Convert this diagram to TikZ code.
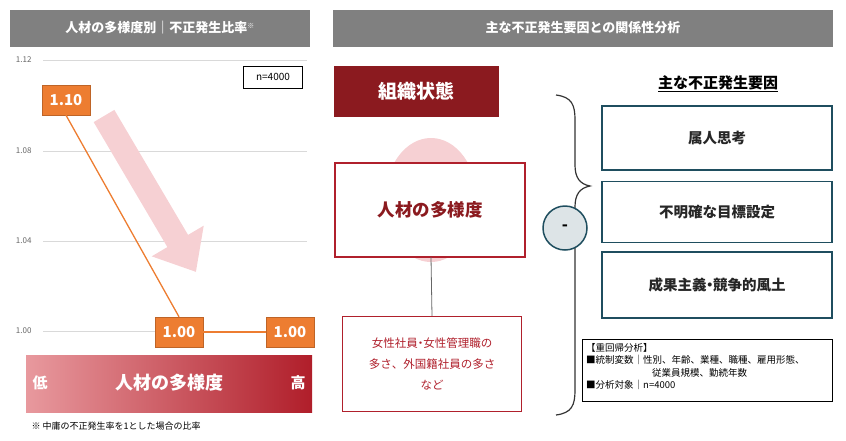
\documentclass[tikz,border=0pt]{standalone}
\usepackage{fontspec}
\setmainfont{Noto Sans CJK JP}
\usetikzlibrary{arrows.meta}
\definecolor{hdr}{HTML}{808080}
\definecolor{org}{HTML}{ED7D31}
\definecolor{dred}{HTML}{8B1A1F}
\definecolor{rbord}{HTML}{B0202C}
\definecolor{teal}{HTML}{1F4E5F}
\definecolor{pinkarr}{HTML}{F6D0D3}
\definecolor{gl}{HTML}{E8999E}
\definecolor{gr}{HTML}{B01E2A}
\tikzset{
 obox/.style={fill=org,draw=org!80!black,line width=0.4pt,text=white,font=\bfseries\fontsize{15}{17}\selectfont,minimum width=48pt,minimum height=30pt,inner sep=0pt},
 ax/.style={font=\fontsize{8}{9}\selectfont,text=black!60},
 grid/.style={draw=black!15,line width=0.8pt},
 fbox/.style={draw=teal,line width=1.6pt,fill=white,minimum width=230pt,minimum height=64pt,font=\bfseries\fontsize{14.5}{17}\selectfont,text=black!85},
}
\begin{document}
\begin{tikzpicture}[x=1pt,y=-1pt]
\useasboundingbox (0,0) rectangle (846,440);
% left header
\fill[hdr] (10,10) rectangle (310,47);
\node[text=white,font=\bfseries\fontsize{13}{15}\selectfont] (lh) at (160,28) {人材の多様度別｜不正発生比率\textsuperscript{\fontsize{7}{7}\selectfont ※}};
% grid
\foreach \v/\y in {1.12/60,1.08/151,1.04/241,1.00/331}{
 \draw[grid] (43,\y) -- (307,\y);
 \node[ax,anchor=east] at (35,\y) {\v};
}
\node[draw=black,line width=0.6pt,minimum width=59pt,minimum height=22pt,inner sep=0pt,font=\fontsize{10}{11}\selectfont] (n) at (273,77) {n=4000};
% pink arrow
\draw[pinkarr,line width=24pt,-{Triangle[width=58pt,length=36pt]}] (104,116) -- (196,272);
% data
\node[obox] (a) at (66,100) {1.10};
\node[obox] (b) at (179,332) {1.00};
\node[obox] (c) at (290,332) {1.00};
\draw[org,line width=1.3pt] (a.south) -- (b.north);
\draw[org,line width=1.3pt] (b.east) -- (c.west);
% gradient bar
\shade[left color=gl,right color=gr] (26,355) rectangle (312,412);
\node[text=white,font=\bfseries\fontsize{15}{17}\selectfont] (lo) at (40,383) {低};
\node[text=white,font=\bfseries\fontsize{18}{20}\selectfont] (mid) at (169,383) {人材の多様度};
\node[text=white,font=\bfseries\fontsize{15}{17}\selectfont] (hi) at (298,383) {高};
\node[anchor=west,font=\fontsize{9}{10}\selectfont] (fn) at (28,426) {※ 中庸の不正発生率を1とした場合の比率};
% right header
\fill[hdr] (333,10) rectangle (833,47);
\node[text=white,font=\bfseries\fontsize{13}{15}\selectfont] (rh) at (583,28) {主な不正発生要因との関係性分析};
\node[fill=dred,minimum width=165pt,minimum height=51pt,text=white,font=\bfseries\fontsize{19}{22}\selectfont] (st) at (416,91) {組織状態};
\fill[pinkarr] (431,200) ellipse (46pt and 62pt);
\node[draw=rbord,line width=1.2pt,fill=white,minimum width=190pt,minimum height=94pt,text=dred,font=\bfseries\fontsize{17.5}{20}\selectfont] (div) at (430,210) {人材の多様度};
\node[draw=rbord,line width=1.2pt,fill=white,minimum width=179pt,minimum height=95pt,text=rbord,align=center,font=\fontsize{11.5}{21}\selectfont] (ex) at (432,364) {女性社員{\kern-3pt}・{\kern-3pt}女性管理職の\\多さ、外国籍社員の多さ\\など};
\draw[black!60,line width=0.8pt] (431,257) -- (ex.north);
% brace
\draw[black!80,line width=1.2pt] (556,95) .. controls (572,97) and (575,105) .. (575,120) -- (575,165) .. controls (575,178) and (580,184) .. (590,186) .. controls (580,188) and (575,194) .. (575,207) -- (575,390) .. controls (575,405) and (572,413) .. (556,415);
\node[circle,draw=teal,line width=1.5pt,fill=teal!15,minimum size=44pt,font=\bfseries\fontsize{16}{16}\selectfont] (m) at (565,228) {-};
\node[font=\bfseries\fontsize{15}{17}\selectfont] (ft) at (718,84) {\underline{主な不正発生要因}};
\node[fbox] (f1) at (717,138) {属人思考};
\node[fbox,minimum height=61pt] (f2) at (717,212) {不明確な目標設定};
\node[fbox,minimum height=66pt] (f3) at (717,285) {成果主義{\kern-4pt}・{\kern-4pt}競争的風土};
\node[draw=black,line width=0.8pt,fill=white,minimum width=250pt,minimum height=62pt,anchor=north west,inner sep=0pt] (info) at (582,339) {};
\node[anchor=north west,align=left,font=\fontsize{9.5}{12.5}\selectfont,inner sep=0pt] (it) at (586,343) {【重回帰分析】\\■統制変数｜性別、年齢、業種、職種、雇用形態、\\\hspace*{66pt}従業員規模、勤続年数\\■分析対象｜n=4000};
\end{tikzpicture}
\end{document}
